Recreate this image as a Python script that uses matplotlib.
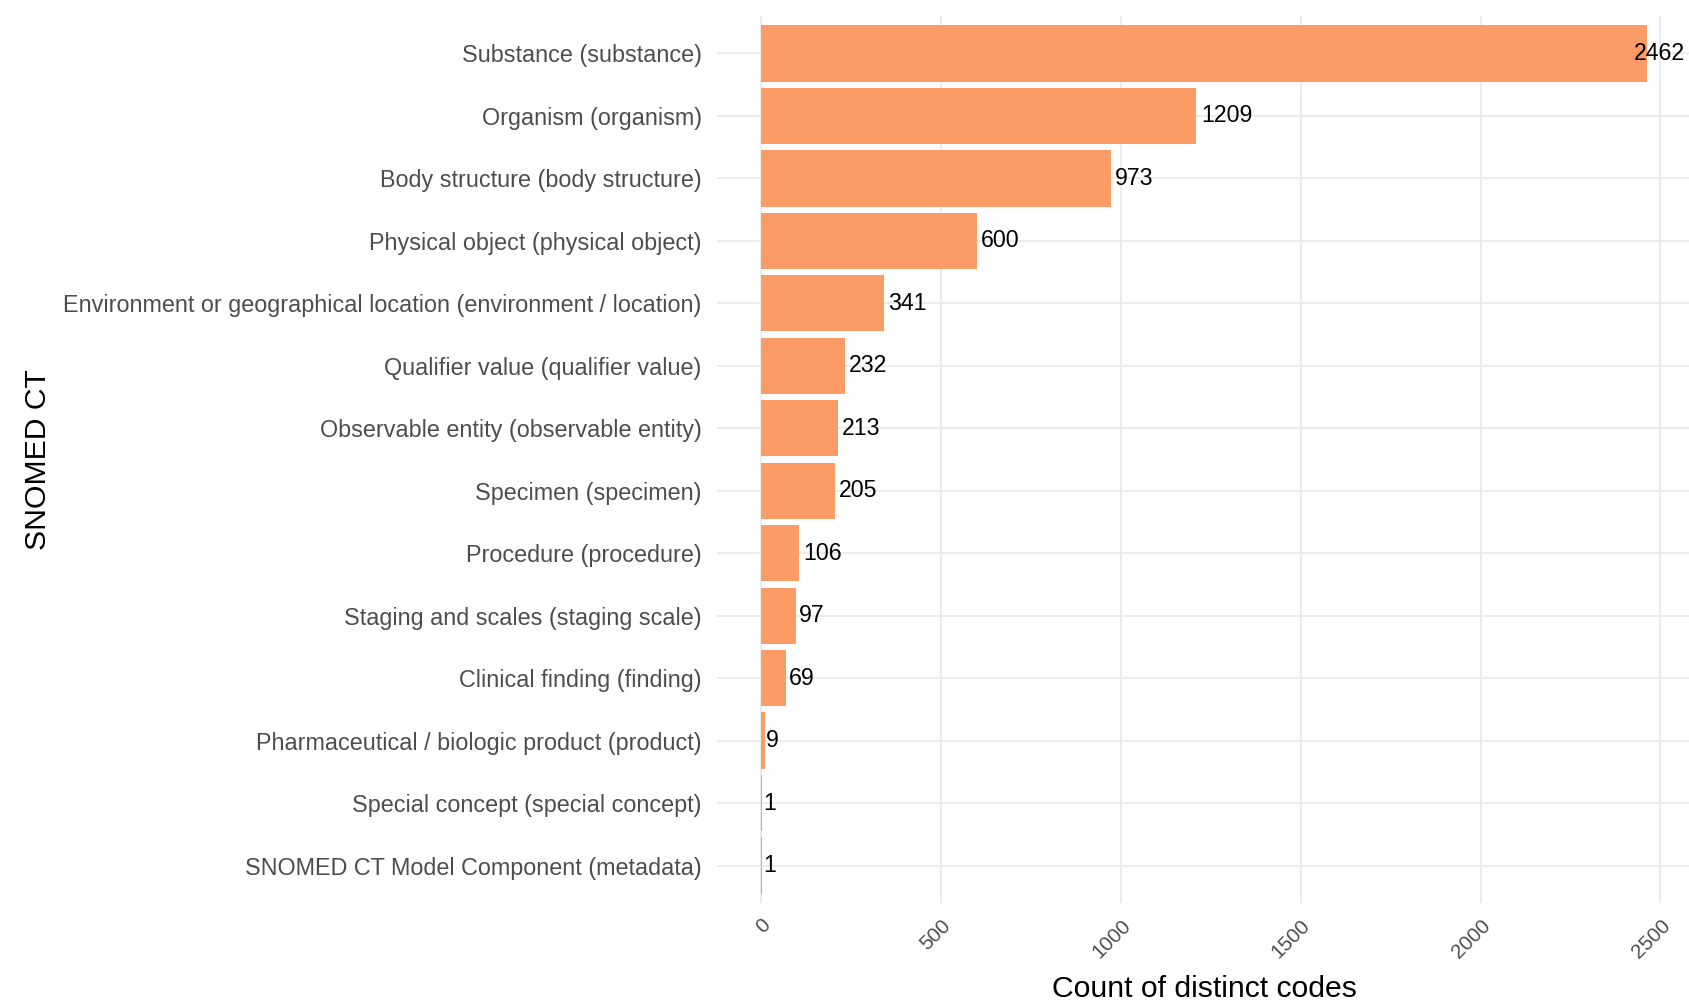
import matplotlib.pyplot as plt
import numpy as np

categories = [
    'Substance (substance)',
    'Organism (organism)',
    'Body structure (body structure)',
    'Physical object (physical object)',
    'Environment or geographical location (environment / location)',
    'Qualifier value (qualifier value)',
    'Observable entity (observable entity)',
    'Specimen (specimen)',
    'Procedure (procedure)',
    'Staging and scales (staging scale)',
    'Clinical finding (finding)',
    'Pharmaceutical / biologic product (product)',
    'Special concept (special concept)',
    'SNOMED CT Model Component (metadata)',
]
counts = [2462, 1209, 973, 600, 341, 232, 213, 205, 106, 97, 69, 9, 1, 1]
x_ticks = [0, 500, 1000, 1500, 2000, 2500]

plt.rcParams['font.family'] = ['Liberation Sans', 'DejaVu Sans']

W, H, DPI = 1690, 1000, 100
fig = plt.figure(figsize=(W / DPI, H / DPI), dpi=DPI)

# panel placement in pixels
left, right, top, bottom = 717, 1691, 16, 903
ax = fig.add_axes([left / W, 1 - bottom / H, (right - left) / W, (bottom - top) / H])

n = len(categories)
y = np.arange(n)
bar_color = '#FB9C67'
grid_color = '#EBEBEB'

ax.barh(y, counts, height=0.9, color=bar_color, zorder=2)

# ggplot-style expansion: 5% on x, 0.6 units on discrete y
xmax = max(counts)
xlo, xhi = -0.05 * xmax, 1.05 * xmax
ax.set_xlim(xlo, xhi)
ax.set_ylim(n - 1 + 0.6, -0.6)

ax.set_yticks(y)
ax.set_yticklabels(categories)
ax.set_xticks(x_ticks)
ax.set_xticklabels([str(t) for t in x_ticks], rotation=45, ha='right', va='top',
                   rotation_mode='anchor')

ax.tick_params(axis='y', length=0, pad=11, labelsize=16.85, labelcolor='#4D4D4D')
ax.tick_params(axis='x', length=0, pad=9, labelsize=14.8, labelcolor='#4D4D4D')

for s in ax.spines.values():
    s.set_visible(False)
ax.grid(True, color=grid_color, linewidth=1.3, zorder=0)
ax.set_axisbelow(True)

# value labels just past each bar end (hjust = -0.1)
label_size = 16.7
em_px = label_size * DPI / 72
data_per_px = (xhi - xlo) / (right - left)
for yi, v in zip(y, counts):
    txt = str(v)
    w_px = len(txt) * 0.556 * em_px
    x0 = v + 0.1 * w_px * data_per_px
    if x0 + w_px * data_per_px > xhi:
        ax.text(xhi - 6 * data_per_px, yi, txt, ha='right', va='center',
                fontsize=label_size, color='black', zorder=3)
    else:
        ax.text(x0, yi, txt, ha='left', va='center',
                fontsize=label_size, color='black', zorder=3)

fig.text((left + right) / 2 / W, 1 - 989 / H, 'Count of distinct codes',
         ha='center', va='center', fontsize=21.7, color='black')
fig.text(38 / W, 1 - (top + bottom) / 2 / H, 'SNOMED CT', rotation=90,
         ha='center', va='center', fontsize=21.7, color='black')

fig.savefig('out.png', dpi=DPI, facecolor='white')
